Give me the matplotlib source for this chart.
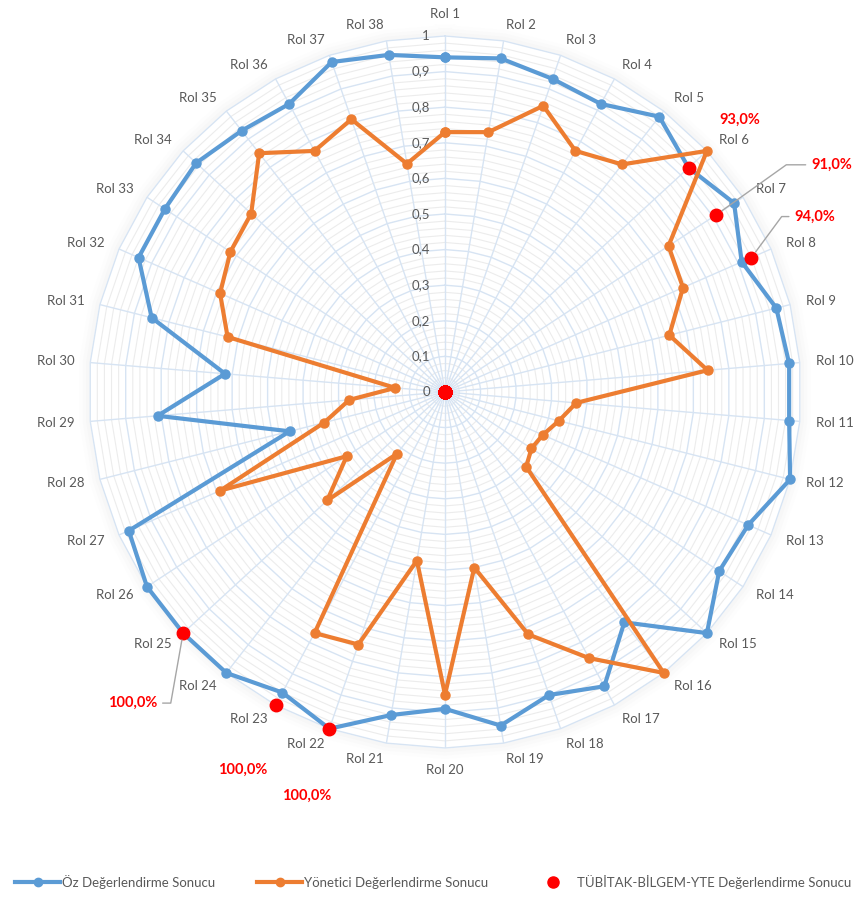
import numpy as np
import matplotlib.pyplot as plt
from matplotlib.lines import Line2D

plt.rcParams['font.family'] = ['Lato', 'DejaVu Sans']

# data
categories = ["Rol 1", "Rol 2", "Rol 3", "Rol 4", "Rol 5", "Rol 6", "Rol 7", "Rol 8",
              "Rol 9", "Rol 10", "Rol 11", "Rol 12", "Rol 13", "Rol 14", "Rol 15",
              "Rol 16", "Rol 17", "Rol 18", "Rol 19", "Rol 20", "Rol 21", "Rol 22",
              "Rol 23", "Rol 24", "Rol 25", "Rol 26", "Rol 27", "Rol 28", "Rol 29",
              "Rol 30", "Rol 31", "Rol 32", "Rol 33", "Rol 34", "Rol 35", "Rol 36",
              "Rol 37", "Rol 38"]
oz = [0.94, 0.95, 0.93, 0.92, 0.98, 0.93, 0.97, 0.91, 0.96, 0.97,
      0.97, 1.00, 0.93, 0.92, 1.00, 0.82, 0.94, 0.90, 0.95, 0.89,
      0.92, 1.00, 0.96, 1.00, 1.00, 1.00, 0.97, 0.45, 0.81, 0.62,
      0.85, 0.94, 0.94, 0.95, 0.93, 0.92, 0.98, 0.96]
yonetici = [0.73, 0.74, 0.85, 0.77, 0.81, 1.00, 0.75, 0.73, 0.65, 0.74,
            0.37, 0.33, 0.30, 0.29, 0.31, 1.00, 0.85, 0.72, 0.50, 0.85,
            0.48, 0.75, 0.77, 0.22, 0.45, 0.33, 0.69, 0.35, 0.27, 0.14,
            0.63, 0.69, 0.72, 0.74, 0.85, 0.77, 0.81, 0.65]
tubitak = [0, 0, 0, 0, 0, 0.93, 0.91, 0.94, 0, 0,
           0, 0, 0, 0, 0, 0, 0, 0, 0, 0,
           0, 1.00, 1.00, 0, 1.00, 0, 0, 0, 0, 0,
           0, 0, 0, 0, 0, 0, 0, 0]
series_names = ["Öz Değerlendirme Sonucu", "Yönetici Değerlendirme Sonucu",
                "TÜBİTAK-BİLGEM-YTE Değerlendirme Sonucu"]
r_ticks = [0, 0.1, 0.2, 0.3, 0.4, 0.5, 0.6, 0.7, 0.8, 0.9, 1.0]

BLUE = '#5B9BD5'
ORANGE = '#ED7D31'
RED = '#FF0000'
GREY_TXT = '#595959'

n = len(categories)
theta = np.linspace(0, 2 * np.pi, n, endpoint=False)
theta_c = np.append(theta, theta[0])

fig = plt.figure(figsize=(8.6, 8.97), dpi=100)
ax = fig.add_axes([0.1035, 0.1661, 0.8279, 0.7938], projection='polar')
ax.set_theta_zero_location('N')
ax.set_theta_direction(-1)
ax.set_ylim(0, 1)
ax.grid(False)
ax.set_xticks([])
ax.set_yticks([])
ax.spines['polar'].set_visible(False)
ax.patch.set_alpha(0)

# soft shadow round the outer ring
for lw, a in [(16, 0.012), (11, 0.018), (6, 0.025)]:
    ax.plot(theta_c, [1.0] * (n + 1), color='#808080', lw=lw, alpha=a,
            clip_on=False, zorder=0.1)
ax.fill(theta_c, [1.0] * (n + 1), color='white', zorder=0.2, clip_on=False)

# polygon gridlines
minor = np.arange(0.02, 1.0, 0.02)
for r in minor:
    if abs(r * 10 - round(r * 10)) < 1e-6:
        continue
    ax.plot(theta_c, [r] * (n + 1), color='#ECECEC', lw=0.8, zorder=0.5)
for r in r_ticks[1:]:
    ax.plot(theta_c, [r] * (n + 1), color='#D7E4F3', lw=1.0, zorder=0.6,
            clip_on=False)
for t in theta:
    ax.plot([t, t], [0, 1], color='#D7E4F3', lw=1.0, zorder=0.6)

# radial tick labels
for r in r_ticks:
    ax.annotate(f"{r:g}".replace('.', ','), xy=(0, r), xytext=(-15, 0),
                textcoords='offset pixels', ha='right', va='center',
                fontsize=9.5, color=GREY_TXT, zorder=3)

# category labels
for t, lab in zip(theta, categories):
    s, c = np.sin(t), np.cos(t)
    if abs(s) < 0.05:
        ha = 'center'
        va = 'bottom' if c > 0 else 'top'
    else:
        ha = 'left' if s > 0 else 'right'
        va = 'center'
    ax.text(t, 1.045, lab, ha=ha, va=va, fontsize=9.5, color=GREY_TXT)

# series
ax.plot(theta_c, oz + oz[:1], color=BLUE, lw=3, marker='o', ms=6.5, zorder=4,
        clip_on=False)
ax.plot(theta_c, yonetici + yonetici[:1], color=ORANGE, lw=3, marker='o', ms=6.5,
        zorder=4, clip_on=False)
ax.plot(theta, tubitak, ls='none', marker='o', color=RED, ms=9, zorder=5,
        clip_on=False)

# data labels for the red series (offset in px, alignment, leader angle)
label_style = {5: (51, 48, 'center', None),
               6: (95, 50, 'left', 35.5),
               7: (43, 41, 'left', 53.6),
               21: (-23, -67, 'center', None),
               22: (-33, -65, 'center', None),
               24: (-26, -70, 'right', -100)}
for i, (dx, dy, ha, ang) in label_style.items():
    txt = f"{tubitak[i] * 100:.1f}%".replace('.', ',')
    kw = {}
    if ang is not None:
        kw['arrowprops'] = dict(arrowstyle='-', color='#A6A6A6', lw=1,
                                shrinkA=2, shrinkB=5,
                                connectionstyle=f"angle,angleA=0,angleB={ang},rad=0")
    ax.annotate(txt, xy=(theta[i], tubitak[i]), xytext=(dx, dy),
                textcoords='offset pixels', ha=ha, va='center',
                fontsize=10.5, fontweight='bold', color=RED,
                annotation_clip=False, zorder=6, **kw)

handles = [Line2D([0], [0], color=BLUE, lw=3, marker='o', ms=6),
           Line2D([0], [0], color=ORANGE, lw=3, marker='o', ms=6),
           Line2D([0], [0], ls='none', marker='o', color=RED, ms=8)]
fig.legend(handles, series_names, loc='center', bbox_to_anchor=(0.504, 0.0167),
           ncol=3, frameon=False, handlelength=3.4, handletextpad=0.15,
           columnspacing=3.2, fontsize=9.5, labelcolor=GREY_TXT)

fig.savefig('out.png', dpi=100)
